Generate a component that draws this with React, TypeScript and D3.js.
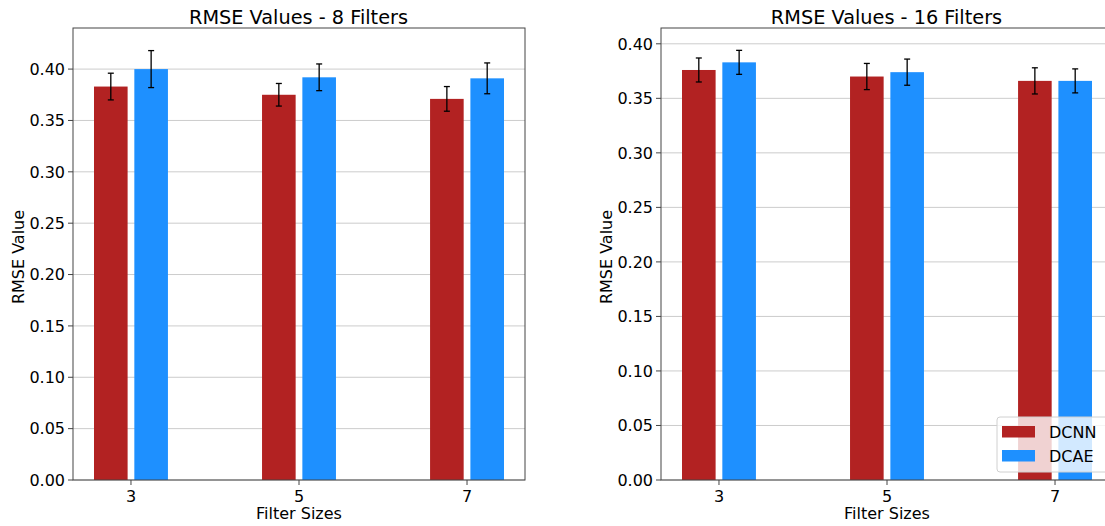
import React from 'react';
import * as d3 from 'd3';

const filterSizes = ['3', '5', '7'];
const seriesNames = ['DCNN', 'DCAE'];
const colors = ['#B22222', '#1E90FF'];

// 8 filters
const dcnn8 = [0.383, 0.375, 0.371];
const dcnn8Err = [0.013, 0.011, 0.012];
const dcae8 = [0.4, 0.392, 0.391];
const dcae8Err = [0.018, 0.013, 0.015];

// 16 filters
const dcnn16 = [0.376, 0.37, 0.366];
const dcnn16Err = [0.011, 0.012, 0.012];
const dcae16 = [0.383, 0.374, 0.366];
const dcae16Err = [0.011, 0.012, 0.011];

const yTicks8 = [0, 0.05, 0.1, 0.15, 0.2, 0.25, 0.3, 0.35, 0.4];
const yTicks16 = [0, 0.05, 0.1, 0.15, 0.2, 0.25, 0.3, 0.35, 0.4];

const font = 'DejaVu Sans, sans-serif';

type PanelProps = {
  left: number;
  title: string;
  values: number[][];
  errors: number[][];
  yMax: number;
  yTicks: number[];
  legend?: boolean;
};

const Panel = ({ left, title, values, errors, yMax, yTicks, legend }: PanelProps) => {
  const top = 28;
  const bottom = 480;
  const width = 452;

  const x = d3.scaleLinear().domain([-0.345, 2.345]).range([left, left + width]);
  const y = d3.scaleLinear().domain([0, yMax]).range([bottom, top]);
  const barW = x(0.2) - x(0);
  const offsets = [-0.12, 0.12];

  return (
    <g>
      <defs>
        <clipPath id={`clip-${left}`}>
          <rect x={left} y={0} width={width} height={526} />
        </clipPath>
      </defs>
      {/* gridlines */}
      {yTicks.map((t) => (
        <line key={t} x1={left} x2={left + width} y1={y(t)} y2={y(t)} stroke="#cccccc" strokeWidth={1} />
      ))}
      {/* bars */}
      <g clipPath={`url(#clip-${left})`}>
        {values.map((series, s) =>
          series.map((v, i) => (
            <rect
              key={`${s}-${i}`}
              x={x(i + offsets[s]) - barW / 2}
              y={y(v)}
              width={barW}
              height={y(0) - y(v)}
              fill={colors[s]}
            />
          ))
        )}
        {/* error bars */}
        {values.map((series, s) =>
          series.map((v, i) => {
            const cx = x(i + offsets[s]);
            const e = errors[s][i];
            return (
              <g key={`e${s}-${i}`} stroke="#000" strokeWidth={1.3}>
                <line x1={cx} x2={cx} y1={y(v - e)} y2={y(v + e)} />
                <line x1={cx - 3} x2={cx + 3} y1={y(v - e)} y2={y(v - e)} />
                <line x1={cx - 3} x2={cx + 3} y1={y(v + e)} y2={y(v + e)} />
              </g>
            );
          })
        )}
      </g>
      {/* spines */}
      <rect x={left} y={top} width={width} height={bottom - top} fill="none" stroke="#444" strokeWidth={1} />
      {/* y ticks */}
      {yTicks.map((t) => (
        <g key={`yt${t}`}>
          <line x1={left - 5} x2={left} y1={y(t)} y2={y(t)} stroke="#444" strokeWidth={1} />
          <text x={left - 8} y={y(t)} dy="0.36em" textAnchor="end" fontSize={16} fontFamily={font} fill="#000">
            {t.toFixed(2)}
          </text>
        </g>
      ))}
      {/* x ticks */}
      {filterSizes.map((f, i) => (
        <g key={`xt${f}`}>
          <line x1={x(i)} x2={x(i)} y1={bottom} y2={bottom + 5} stroke="#444" strokeWidth={1} />
          <text x={x(i)} y={bottom + 22} textAnchor="middle" fontSize={16} fontFamily={font} fill="#000">
            {f}
          </text>
        </g>
      ))}
      <text x={left + width / 2 - 0.5} y={24} textAnchor="middle" fontSize={19.3} fontFamily={font} fill="#000">
        {title}
      </text>
      <text x={x(1)} y={519} textAnchor="middle" fontSize={16} fontFamily={font} fill="#000">
        Filter Sizes
      </text>
      <text
        transform={`translate(${left - 49},257) rotate(-90)`}
        textAnchor="middle"
        fontSize={16}
        fontFamily={font}
        fill="#000"
      >
        RMSE Value
      </text>
      {legend && (
        <g>
          <rect x={997} y={417} width={112} height={55} rx={3} fill="#fff" fillOpacity={0.8} stroke="#d0d0d0" strokeWidth={1} />
          {seriesNames.map((n, s) => (
            <g key={n}>
              <rect x={1002} y={426 + s * 24} width={33} height={11.5} fill={colors[s]} />
              <text x={1049} y={432 + s * 24} dy="0.36em" fontSize={16} fontFamily={font} fill="#000">
                {n}
              </text>
            </g>
          ))}
        </g>
      )}
    </g>
  );
};

const App = () => {
  return (
    <div style={{ position: 'absolute', left: 0, top: 0 }}>
      <svg width={1105} height={526} style={{ display: 'block', background: '#fff' }}>
        <Panel
          left={73}
          title="RMSE Values - 8 Filters"
          values={[dcnn8, dcae8]}
          errors={[dcnn8Err, dcae8Err]}
          yMax={0.44}
          yTicks={yTicks8}
        />
        <Panel
          left={661}
          title="RMSE Values - 16 Filters"
          values={[dcnn16, dcae16]}
          errors={[dcnn16Err, dcae16Err]}
          yMax={0.4145}
          yTicks={yTicks16}
          legend
        />
      </svg>
    </div>
  );
};

export default App;
